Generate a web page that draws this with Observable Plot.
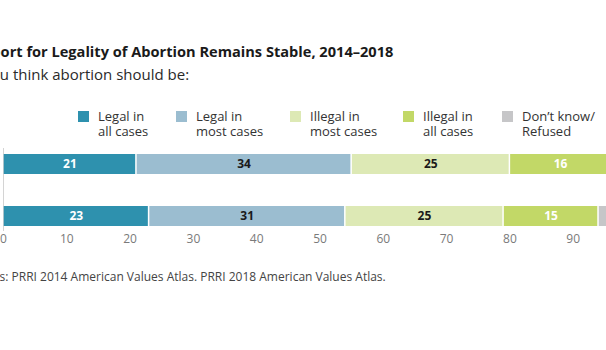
<!DOCTYPE html>
<html>
<head>
<meta charset="utf-8">
<script src="https://cdn.jsdelivr.net/npm/d3@7"></script>
<script src="https://cdn.jsdelivr.net/npm/@observablehq/plot@0.6"></script>
<style>
  html, body { margin: 0; padding: 0; background: #fff; }
  body { width: 606px; height: 350px; overflow: hidden; position: relative; font-family: "Open Sans", sans-serif; }
  .abs { position: absolute; white-space: nowrap; }
  #title { top: 41px; left: -35.5px; font-size: 14.6px; font-weight: 700; color: #1a1a1a; }
  #subtitle { top: 64px; left: -40.5px; font-size: 15px; color: #2a2a2a; }
  #legend { top: 109px; left: 0; width: 606px; height: 32px; font-size: 13px; line-height: 15px; color: #333; }
  .item { position: absolute; top: 0; display: flex; align-items: flex-start; }
  .sw { width: 11px; height: 11px; margin-top: 2px; margin-right: 9px; flex: none; }
  #source { top: 268px; left: -39px; font-size: 12px; color: #444; }
  #chart { position: absolute; top: 140px; left: 0; }
</style>
</head>
<body>
<div id="title" class="abs">Support for Legality of Abortion Remains Stable, 2014–2018</div>
<div id="subtitle" class="abs">Do you think abortion should be:</div>
<div id="legend" class="abs"></div>
<div id="chart"></div>
<div id="source" class="abs">Sources: PRRI 2014 American Values Atlas. PRRI 2018 American Values Atlas.</div>
<script>
const years = ["2014", "2018"];
const categories = ["Legal in all cases", "Legal in most cases", "Illegal in most cases", "Illegal in all cases", "Don’t know/Refused"];
const legendLines = [["Legal in", "all cases"], ["Legal in", "most cases"], ["Illegal in", "most cases"], ["Illegal in", "all cases"], ["Don’t know/", "Refused"]];
const values2014 = [21, 34, 25, 16, 4];
const values2018 = [23, 31, 25, 15, 6];
const xTicks = [0, 10, 20, 30, 40, 50, 60, 70, 80, 90, 100];
const colors = ["#2e91ae", "#9bbdd0", "#dde9b5", "#c2d867", "#c6c6c8"];
const labelColors = ["#ffffff", "#1a1a1a", "#1a1a1a", "#ffffff", "#1a1a1a"];
const legendLefts = [78, 176, 290, 403, 502];

const rows = [];
[values2014, values2018].forEach((vals, i) => {
  vals.forEach((v, j) => rows.push({year: years[i], category: categories[j], value: v, idx: j}));
});

// legend
const legend = document.getElementById("legend");
categories.forEach((c, j) => {
  const item = document.createElement("div");
  item.className = "item";
  item.style.left = legendLefts[j] + "px";
  const sw = document.createElement("div");
  sw.className = "sw";
  sw.style.background = colors[j];
  const t = document.createElement("div");
  t.innerHTML = legendLines[j].join("<br>");
  item.appendChild(sw);
  item.appendChild(t);
  legend.appendChild(item);
});

const chart = Plot.plot({
  width: 700,
  height: 116,
  marginTop: 8,
  marginBottom: 25,
  marginLeft: 3,
  marginRight: 64,
  style: {maxWidth: "none", background: "transparent", fontFamily: "Open Sans", overflow: "visible"},
  x: {domain: [0, 100], axis: null},
  y: {domain: years, paddingInner: 0.62, paddingOuter: 0.1, axis: null},
  color: {domain: categories, range: colors},
  marks: [
    Plot.ruleX([0], {stroke: "#d4d4d4", strokeWidth: 1}),
    Plot.barX(rows, Plot.stackX({x: "value", y: "year", fill: "category", insetLeft: 0.75, insetRight: 0.75})),
    Plot.text(rows, Plot.stackX({
      x: "value", y: "year", text: d => d.idx < 4 ? String(d.value) : "",
      fill: d => labelColors[d.idx], fontSize: 12, fontWeight: 700
    })),
    Plot.axisX({ticks: xTicks, tickSize: 0, tickPadding: 3, fontSize: 12, fill: "#7a7a7a", label: null})
  ]
});
document.getElementById("chart").appendChild(chart);
</script>
</body>
</html>
